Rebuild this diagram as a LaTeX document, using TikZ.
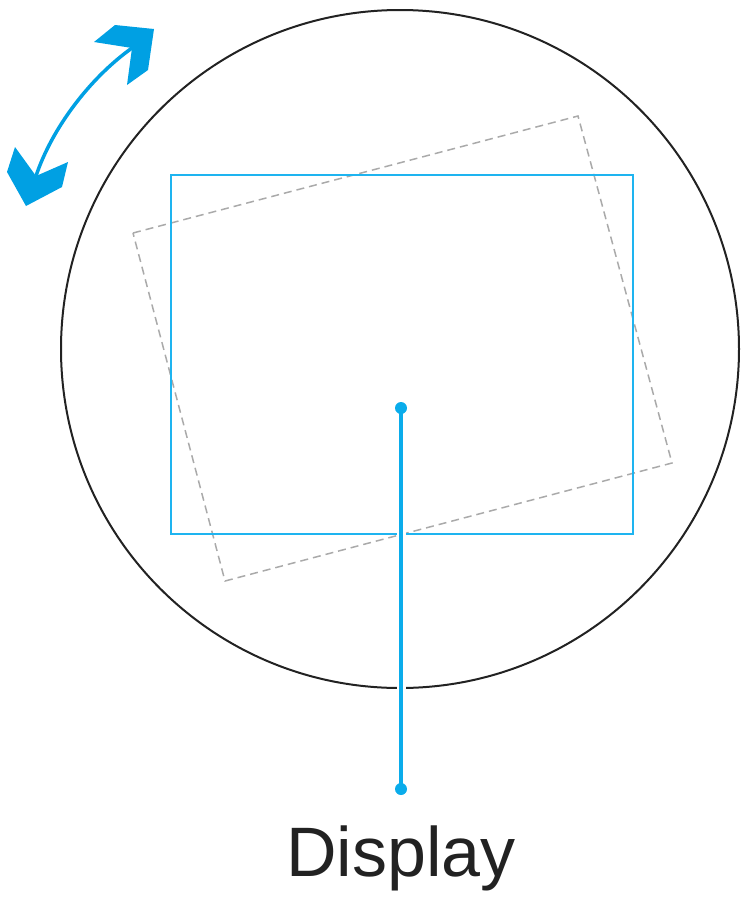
\documentclass[tikz,border=0pt]{standalone}
\usepackage{fontspec}
\setmainfont{Liberation Sans}
\definecolor{abl}{RGB}{0,160,227}
\definecolor{rbl}{RGB}{30,180,240}
\definecolor{lbl}{RGB}{10,172,235}
\definecolor{dgr}{RGB}{170,170,170}
\definecolor{ink}{RGB}{34,34,34}
\begin{document}
\begin{tikzpicture}[x=1pt,y=-1pt,
  dashbox/.style={draw=dgr,line width=1.5pt,dash pattern=on 8pt off 5pt,line join=miter},
  dotnode/.style={circle,fill=lbl,inner sep=0pt,minimum size=12pt}]
\useasboundingbox (0,0) rectangle (740,898);
\draw[ink,line width=2pt] (400,349) circle[radius=339];
\draw[dashbox] (133,233) -- (578,116) -- (672,463) -- (225,581) -- cycle;
\draw[rbl,line width=2pt] (171,175) rectangle (633,534);
\node[dotnode] (top) at (401,408) {};
\node[dotnode] (bot) at (401,789) {};
\draw[white,line width=9pt] (top) -- (bot);
\draw[lbl,line width=4pt] (top.center) -- (bot.center);
\node[font=\fontsize{70}{80}\selectfont,text=ink] (lab) at (401,858) {Display};
% curved double arrow
\coordinate (a1) at (36,176);
\coordinate (a2) at (132,48);
\draw[abl,line width=3.5pt] (a1) .. controls (52,128) and (90,78) .. (a2);
\fill[abl] (115,25) -- (154,29) -- (148,70) -- (127,85) -- (132,48) -- (94,42) -- cycle;
\fill[abl] (15,147) -- (36,176) -- (68,162) -- (62,187) -- (26,206) -- (7,172) -- cycle;
\end{tikzpicture}
\end{document}
